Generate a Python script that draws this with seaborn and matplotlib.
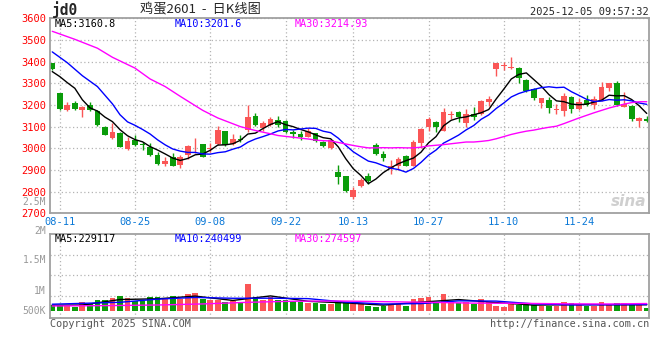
import matplotlib
matplotlib.use('Agg')
import matplotlib.pyplot as plt
import pandas as pd
import seaborn as sns

# daily K-line data (08-08 .. 12-05)
opens = [3393, 3254, 3177, 3211, 3177, 3200, 3174, 3100, 3046, 3072,
         2997, 3039, 3018, 3005, 2969, 2927, 2962, 2923, 2969, 3013,
         3020, 2998, 3020, 3080, 3020, 3044, 3085, 3149, 3092, 3108,
         3131, 3128, 3074, 3066, 3054, 3069, 3031, 3000, 2889, 2872,
         2774, 2826, 2872, 3015, 2974, 2906, 2919, 2965, 2920, 3026,
         3100, 3123, 3082, 3152, 3169, 3119, 3158, 3158, 3212, 3366,
         3380, 3369, 3369, 3315, 3274, 3211, 3223, 3178, 3174, 3238,
         3182, 3223, 3200, 3223, 3280, 3300, 3192, 3197, 3128, 3134]
closes = [3365, 3182, 3200, 3182, 3192, 3177, 3108, 3062, 3077, 3008,
          3035, 3016, 3014, 2969, 2928, 2943, 2919, 2962, 3011, 3016,
          2962, 3002, 3085, 3015, 3043, 3040, 3146, 3108, 3119, 3135,
          3108, 3074, 3066, 3054, 3080, 3034, 3011, 3039, 2869, 2805,
          2808, 2854, 2851, 2974, 2954, 2919, 2949, 2920, 3031, 3089,
          3135, 3097, 3169, 3155, 3146, 3157, 3146, 3218, 3228, 3392,
          3383, 3377, 3323, 3266, 3234, 3231, 3185, 3181, 3243, 3182,
          3215, 3200, 3226, 3285, 3300, 3200, 3205, 3134, 3142, 3125]
highs = [3395, 3256, 3215, 3218, 3194, 3215, 3176, 3102, 3116, 3074,
         3054, 3062, 3031, 3023, 2985, 2959, 2977, 2969, 3016, 3046,
         3022, 3023, 3103, 3082, 3066, 3062, 3200, 3165, 3128, 3146,
         3149, 3131, 3085, 3082, 3092, 3072, 3034, 3042, 2923, 2874,
         2823, 2865, 2888, 3026, 2988, 2946, 2959, 2967, 3039, 3092,
         3146, 3128, 3185, 3172, 3172, 3182, 3189, 3223, 3242, 3394,
         3397, 3423, 3377, 3318, 3277, 3233, 3238, 3203, 3254, 3240,
         3231, 3246, 3242, 3305, 3303, 3311, 3262, 3200, 3146, 3149]
lows = [3362, 3178, 3172, 3177, 3146, 3172, 3105, 3060, 3043, 3005,
        2992, 3011, 2990, 2965, 2921, 2916, 2916, 2908, 2950, 2980,
        2958, 2985, 3015, 3012, 3015, 3031, 3077, 3105, 3082, 3103,
        3100, 3069, 3046, 3036, 3051, 3031, 3008, 2995, 2836, 2800,
        2765, 2820, 2834, 2969, 2943, 2882, 2900, 2918, 2918, 3000,
        3082, 3077, 3080, 3135, 3123, 3100, 3131, 3154, 3197, 3335,
        3362, 3367, 3300, 3259, 3223, 3188, 3165, 3157, 3151, 3165,
        3177, 3195, 3180, 3218, 3265, 3195, 3189, 3128, 3100, 3123]
# volume in thousands of lots
volumes = [221, 221, 185, 135, 332, 258, 406, 406, 480, 566,
           480, 369, 369, 517, 517, 443, 566, 443, 627, 664,
           443, 406, 406, 320, 369, 344, 996, 517, 406, 517,
           406, 406, 369, 320, 283, 283, 258, 258, 344, 344,
           258, 283, 197, 160, 185, 258, 258, 197, 443, 480,
           529, 320, 627, 344, 283, 344, 258, 443, 320, 185,
           160, 258, 221, 221, 221, 197, 185, 185, 320, 283,
           221, 197, 197, 320, 221, 283, 283, 221, 221, 123]

ma5 = [3354, 3331, 3303, 3277, 3224, 3187, 3172, 3144, 3123, 3086,
       3058, 3040, 3030, 3008, 2992, 2974, 2955, 2944, 2953, 2970,
       2974, 2991, 3015, 3016, 3021, 3037, 3066, 3070, 3091, 3110,
       3123, 3109, 3100, 3087, 3076, 3062, 3049, 3044, 3007, 2952,
       2906, 2875, 2837, 2858, 2888, 2910, 2929, 2943, 2955, 2982,
       3025, 3054, 3104, 3129, 3140, 3145, 3155, 3164, 3179, 3228,
       3273, 3320, 3341, 3348, 3317, 3286, 3248, 3219, 3215, 3204,
       3201, 3204, 3213, 3222, 3245, 3242, 3243, 3225, 3196, 3161]
ma10 = [3445, 3420, 3395, 3365, 3335, 3310, 3285, 3245, 3205, 3155,
        3122, 3106, 3087, 3066, 3039, 3016, 2997, 2987, 2981, 2981,
        2974, 2973, 2980, 2984, 2996, 3006, 3028, 3043, 3054, 3066,
        3080, 3087, 3085, 3089, 3093, 3092, 3079, 3072, 3047, 3014,
        2984, 2962, 2941, 2933, 2920, 2908, 2902, 2890, 2907, 2935,
        2968, 2992, 3024, 3042, 3061, 3085, 3105, 3134, 3154, 3184,
        3209, 3237, 3253, 3264, 3272, 3280, 3284, 3280, 3282, 3261,
        3244, 3226, 3216, 3218, 3225, 3222, 3224, 3219, 3209, 3203]
ma30_idx = [0, 3, 6, 8, 11, 13, 15, 17, 20, 22, 25, 27] + list(range(29, 80))
ma30 = [3540, 3503, 3462, 3420, 3370, 3320, 3285, 3240, 3175, 3140, 3100, 3082,
        3067, 3059, 3055, 3051, 3047, 3043, 3038, 3035, 3034, 3027,
        3020, 3013, 3007, 3002, 3002, 3003, 3002, 3003, 3002, 3002,
        3005, 3011, 3014, 3017, 3021, 3025, 3029, 3029, 3032, 3036,
        3044, 3054, 3064, 3072, 3079, 3084, 3091, 3097, 3102, 3114,
        3127, 3140, 3152, 3164, 3175, 3186, 3195, 3204, 3211, 3215, 3215]

vol_ma5_idx = [0, 4, 9, 14, 19, 24, 29, 34, 39, 44, 49, 54, 59, 64, 69, 74, 79]
vol_ma5 = [215, 219, 423, 450, 549, 389, 556, 357, 297, 217, 327, 421, 310, 216, 234, 231, 229]
vol_ma10_idx = [0, 9, 14, 19, 24, 29, 34, 39, 44, 49, 54, 59, 64, 69, 74, 79]
vol_ma10 = [250, 321, 437, 500, 469, 472, 456, 327, 257, 272, 374, 365, 263, 225, 233, 240]
vol_ma30_idx = [0, 8, 14, 20, 26, 32, 38, 44, 50, 56, 62, 68, 74, 79]
vol_ma30 = [185, 200, 221, 260, 320, 360, 369, 344, 320, 290, 283, 265, 258, 275]

date_labels = ['08-11', '08-25', '09-08', '09-22', '10-13', '10-27', '11-10', '11-24']
date_idx = [1, 11, 21, 31, 40, 50, 60, 70]

UP = '#fa5656'
DOWN = '#0a9c0a'
FRAME = '#a0a0a0'
MONO = 'DejaVu Sans Mono'

sns.set_style('white')
plt.rcParams['font.family'] = ['DejaVu Sans Mono', 'DejaVu Sans']

df = pd.DataFrame({'open': opens, 'close': closes, 'high': highs, 'low': lows, 'vol': volumes})
df['i'] = range(len(df))
df['up'] = df['close'] >= df['open']
df['color'] = df['up'].map({True: UP, False: DOWN})
df['body_lo'] = df[['open', 'close']].min(axis=1)
df['body_h'] = (df['close'] - df['open']).abs().clip(lower=4)

W, H = 660, 360
fig = plt.figure(figsize=(6.6, 3.6), dpi=100)


def fx(x):
    return x / W


def fy(y):
    return 1 - y / H


ax1 = fig.add_axes([fx(50), fy(213.3), fx(599), 195 / H])
ax2 = fig.add_axes([fx(50), fy(318.3), fx(599), 84 / H])

xlim = (-0.3, 79.3)

# price panel
ax1.vlines(df['i'], df['low'], df['high'], colors=df['color'], linewidth=1, zorder=2)
ax1.bar(df['i'], df['body_h'], bottom=df['body_lo'], width=0.76, color=df['color'],
        linewidth=0, zorder=2)
sns.lineplot(x=list(range(len(ma5))), y=ma5, ax=ax1, color='black', linewidth=1, zorder=3)
sns.lineplot(x=list(range(len(ma10))), y=ma10, ax=ax1, color='#0000ff', linewidth=1, zorder=3)
sns.lineplot(x=ma30_idx, y=ma30, ax=ax1, color='#ff00ff', linewidth=1, zorder=3)
ax1.set_xlim(*xlim)
ax1.set_ylim(2700, 3600)
ax1.set_yticks(range(2700, 3601, 100))
ax1.set_xticks(date_idx)
ax1.set_xticklabels(date_labels)
ax1.tick_params(axis='y', length=0, pad=3, labelsize=7.5, labelcolor='#ff0000')
ax1.tick_params(axis='x', length=0, pad=3, labelsize=7.5, labelcolor='#0a78d7')
ax1.grid(True, color='#b4b4b4', linestyle=(0, (1, 2)), linewidth=0.9)

# volume panel
ax2.bar(df['i'], df['vol'], width=0.76, color=df['color'], linewidth=0, zorder=2)
sns.lineplot(x=vol_ma5_idx, y=vol_ma5, ax=ax2, color='black', linewidth=1, zorder=3)
sns.lineplot(x=vol_ma10_idx, y=vol_ma10, ax=ax2, color='#0000ff', linewidth=1, zorder=3)
sns.lineplot(x=vol_ma30_idx, y=vol_ma30, ax=ax2, color='#ff00ff', linewidth=1, zorder=3)
ax2.set_xlim(*xlim)
ax2.set_ylim(-270, 2830)
ax2.set_yticks([565, 1330, 2066])
ax2.set_yticklabels([])
ax2.set_xticks(date_idx)
ax2.set_xticklabels([])
ax2.tick_params(length=0)
ax2.grid(True, color='#b4b4b4', linestyle=(0, (1, 2)), linewidth=0.9)

for ax in (ax1, ax2):
    ax.set_xlabel('')
    ax.set_ylabel('')
    for s in ax.spines.values():
        s.set_color(FRAME)
        s.set_linewidth(1.3)

# header
fig.text(fx(52), fy(10), 'jd0', fontsize=10.5, fontweight='bold', family=MONO, va='center')
fig.text(fx(140), fy(10), '鸡蛋2601  -  日K线图', fontsize=9.5,
         family=['Noto Sans CJK SC', 'DejaVu Sans'], va='center')
fig.text(fx(649), fy(12), '2025-12-05 09:57:32', fontsize=7.5, family=MONO, ha='right', va='center')

# MA legends
fig.text(fx(55), fy(24), 'MA5:3160.8', fontsize=7.3, family=MONO, color='black', va='center')
fig.text(fx(175), fy(24), 'MA10:3201.6', fontsize=7.3, family=MONO, color='#0000ff', va='center')
fig.text(fx(295), fy(24), 'MA30:3214.93', fontsize=7.3, family=MONO, color='#ff00ff', va='center')
fig.text(fx(55), fy(238.5), 'MA5:229117', fontsize=7.3, family=MONO, color='black', va='center')
fig.text(fx(175), fy(238.5), 'MA10:240499', fontsize=7.3, family=MONO, color='#0000ff', va='center')
fig.text(fx(295), fy(238.5), 'MA30:274597', fontsize=7.3, family=MONO, color='#ff00ff', va='center')

# volume axis labels
for lab, y in [('2.5M', 202), ('2M', 231), ('1.5M', 260), ('1M', 290.5), ('500K', 310.5)]:
    fig.text(fx(46), fy(y), lab, fontsize=7, family=MONO, color='#999999', ha='right', va='center')

# footer
fig.text(fx(50), fy(324), 'Copyright 2025 SINA.COM', fontsize=7.3, family=MONO, color='#555555', va='center')
fig.text(fx(649), fy(324), 'http://finance.sina.com.cn', fontsize=7.3, family=MONO, color='#555555',
         ha='right', va='center')

# watermark
fig.text(fx(646), fy(202), 'sina', fontsize=11, fontweight='bold', style='italic',
         family='DejaVu Sans', color='#cfcfcf', ha='right', va='center')

fig.savefig('out.png', dpi=100, facecolor='white')
